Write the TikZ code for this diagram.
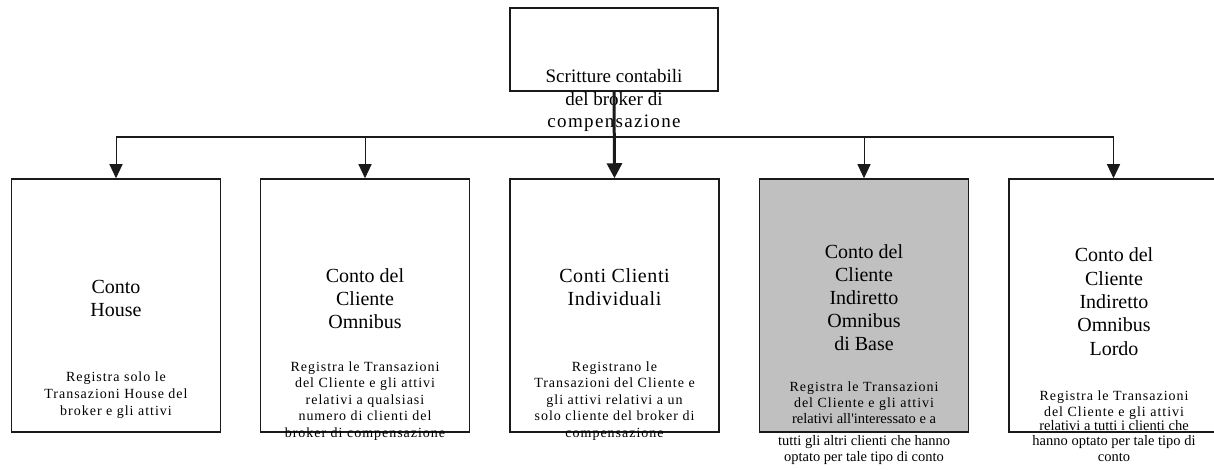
\documentclass[tikz,border=0pt]{standalone}
\usepackage{fontspec}
\setmainfont{Liberation Serif}
\newfontfamily\descfont[LetterSpace=7]{Liberation Serif}
\usepackage{tikz}
\usetikzlibrary{positioning, arrows.meta}
\definecolor{bGray}{HTML}{C0C0C0}
\definecolor{bInk}{HTML}{1A1A1A}
\tikzset{
  acctbox/.style={draw=bInk, line width=1.5pt, minimum width=209pt, minimum height=253pt, inner sep=0pt},
  headbox/.style={draw=bInk, line width=1.5pt, minimum width=208pt, minimum height=83pt, inner sep=0pt},
  titletext/.style={anchor=base, align=center, inner sep=0pt, font=\fontsize{20}{23}\selectfont},
  desctext/.style={anchor=base, align=center, inner sep=0pt, font=\descfont\fontsize{14}{16.5}\selectfont},
  loosetext/.style={anchor=base, align=center, inner sep=0pt, font=\fontsize{14.5}{15.2}\selectfont},
}

\begin{document}
\begin{tikzpicture}[x=1pt, y=-1pt, >={Triangle[width=13pt,length=14pt]}]
  \useasboundingbox (0,0) rectangle (1214,470);
  % top box (anchor base = last line)
  \node[headbox] (top) at (614,49.5) {};
  \node[anchor=base, align=center, inner sep=0pt, font=\fontsize{19}{22.5}\selectfont] (toptext) at (614,128)
    {Scritture contabili\\del broker di\\{\addfontfeatures{LetterSpace=7}compensazione}};
  % account boxes
  \node[acctbox] (b1) at (116,305.5) {};
  \node[acctbox] (b2) at (365,305.5) {};
  \node[acctbox] (b3) at (614.5,305.5) {};
  \node[acctbox, fill=bGray] (b4) at (864,305.5) {};
  \node[acctbox] (b5) at (1113.5,305.5) {};
  % titles
  \node[titletext] (t1) at (116,316) {Conto\\House};
  \node[titletext] (t2) at (365,328) {Conto del\\Cliente\\Omnibus};
  \node[titletext, font={\fontsize{20}{23}\selectfont\addfontfeatures{LetterSpace=3}}] (t3) at (614.5,305) {Conti Clienti\\Individuali};
  \node[titletext] (t4) at (864,350) {Conto del\\Cliente\\Indiretto\\Omnibus\\di Base};
  \node[titletext, font=\fontsize{20}{23.3}\selectfont] (t5) at (1114,355) {Conto del\\Cliente\\Indiretto\\Omnibus\\Lordo};
  % descriptions
  \node[desctext, font=\descfont\fontsize{14}{17}\selectfont] (d1) at (116,415)
    {Registra solo le\\Transazioni House del\\broker e gli attivi};
  \node[desctext] (d2) at (365,437)
    {Registra le Transazioni\\del Cliente e gli attivi\\relativi a qualsiasi\\numero di clienti del\\broker di compensazione};
  \node[desctext] (d3) at (614.5,437)
    {Registrano le\\Transazioni del Cliente e\\gli attivi relativi a un\\solo cliente del broker di\\compensazione};
  \node[desctext, font=\descfont\fontsize{14}{16}\selectfont] (d4) at (864,423)
    {Registra le Transazioni\\del Cliente e gli attivi\\{\fontsize{14.5}{16}\selectfont\addfontfeatures{LetterSpace=0}relativi all'interessato e a}};
  \node[loosetext, font=\fontsize{14.5}{15.5}\selectfont] (d4b) at (864,461)
    {tutti gli altri clienti che hanno\\optato per tale tipo di conto};
  \node[desctext, font=\descfont\fontsize{14}{16}\selectfont] (d5) at (1114,416)
    {Registra le Transazioni\\del Cliente e gli attivi};
  \node[loosetext] (d5b) at (1114,461)
    {relativi a tutti i clienti che\\hanno optato per tale tipo di\\conto};
  % connectors
  \coordinate (bus) at (614,137);
  \draw[bInk, line width=1.5pt] (b1.north |- bus) -- (b5.north |- bus);
  \foreach \b in {b1,b2,b4,b5}
    \draw[->, bInk, line width=1pt] (\b.north |- bus) -- (\b.north);
  \draw[->, bInk, line width=3pt, >={Triangle[width=15pt,length=15pt]}] (top.south) -- (b3.north);
\end{tikzpicture}
\end{document}
